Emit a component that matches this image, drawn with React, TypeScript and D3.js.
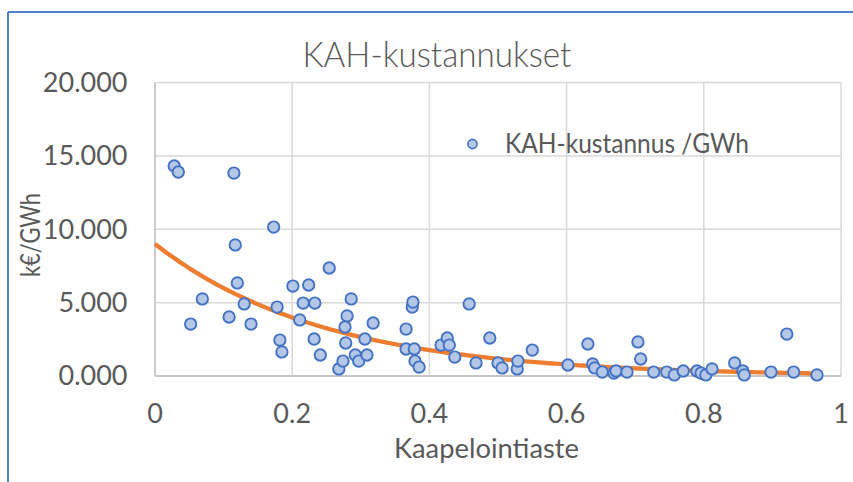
import React from "react";
import * as d3 from "d3";

const kaapelointiaste = [
  0.028, 0.034, 0.115, 0.173, 0.117, 0.12, 0.069, 0.13, 0.052, 0.108, 0.14, 0.178, 0.182, 0.185,
  0.201, 0.224, 0.254, 0.216, 0.233, 0.211, 0.232, 0.241, 0.286, 0.28, 0.277, 0.278, 0.268, 0.274,
  0.292, 0.297, 0.309, 0.306, 0.318, 0.366, 0.375, 0.376, 0.366, 0.378, 0.379, 0.385, 0.417, 0.426,
  0.429, 0.437, 0.458, 0.468, 0.488, 0.5, 0.506, 0.528, 0.529, 0.55, 0.602, 0.631, 0.638, 0.641,
  0.652, 0.669, 0.672, 0.688, 0.704, 0.708, 0.727, 0.746, 0.757, 0.77, 0.79, 0.796, 0.803, 0.812,
  0.845, 0.857, 0.859, 0.898, 0.921, 0.931, 0.965,
];

const kustannus = [
  14.31, 13.9, 13.83, 10.15, 8.93, 6.34, 5.25, 4.91, 3.54, 4.02, 3.54, 4.7, 2.45, 1.64,
  6.13, 6.2, 7.36, 4.97, 4.97, 3.82, 2.52, 1.43, 5.25, 4.09, 3.34, 2.25, 0.48, 1.02,
  1.43, 1.02, 1.43, 2.52, 3.61, 3.2, 4.7, 5.04, 1.84, 1.84, 1.02, 0.61, 2.11, 2.59,
  2.11, 1.29, 4.91, 0.89, 2.59, 0.89, 0.55, 0.48, 1.02, 1.77, 0.75, 2.18, 0.82, 0.55,
  0.27, 0.2, 0.34, 0.27, 2.32, 1.16, 0.27, 0.27, 0.07, 0.34, 0.34, 0.2, 0.07, 0.48,
  0.89, 0.34, 0.07, 0.27, 2.86, 0.27, 0.07,
];

const xTicks = [0, 0.2, 0.4, 0.6, 0.8, 1];
const yTicks = [0, 5, 10, 15, 20];

// Exponential trendline (Excel): y = a * e^(b x)
const trendA = 9.0;
const trendB = -4.07;
const trendRange = [0, 0.965];

const titleText = "KAH-kustannukset";
const legendText = "KAH-kustannus /GWh";
const xTitle = "Kaapelointiaste";
const yTitle = "k€/GWh";

const W = 853;
const H = 482;
const FONT = "Lato, 'Open Sans', 'Liberation Sans', sans-serif";
const TEXT = "#595959";

export default function App() {
  const x = d3.scaleLinear().domain([0, 1]).range([155, 841]);
  const y = d3.scaleLinear().domain([0, 20]).range([376, 82.5]);

  const trendPts = d3.range(0, 201).map((i) => {
    const xv = trendRange[0] + ((trendRange[1] - trendRange[0]) * i) / 200;
    return [xv, trendA * Math.exp(trendB * xv)] as [number, number];
  });
  const line = d3
    .line<[number, number]>()
    .x((d) => x(d[0]))
    .y((d) => y(d[1]));

  const fmtY = d3.format(".3f");
  const fmtX = (v: number) => String(v);

  const data = kaapelointiaste.map((v, i) => ({ x: v, y: kustannus[i] }));

  return (
    <svg
      width={W}
      height={H}
      style={{ position: "absolute", left: 0, top: 0, background: "#fff" }}
      fontFamily={FONT}
    >
      <rect x={0} y={0} width={W} height={H} fill="#fff" />
      {/* chart border (cropped) */}
      <line x1={8} y1={12} x2={W} y2={12} stroke="#5181C8" strokeWidth={2} />
      <line x1={8} y1={12} x2={8} y2={H} stroke="#5181C8" strokeWidth={2} />

      {/* gridlines */}
      {yTicks
        .filter((t) => t > 0)
        .map((t) => (
          <line key={"gy" + t} x1={x(0)} x2={x(1)} y1={y(t)} y2={y(t)} stroke="#d9d9d9" strokeWidth={1.5} />
        ))}
      {xTicks
        .filter((t) => t > 0)
        .map((t) => (
          <line key={"gx" + t} x1={x(t)} x2={x(t)} y1={y(0)} y2={y(20)} stroke="#d9d9d9" strokeWidth={1.5} />
        ))}
      {/* axes */}
      <line x1={x(0)} x2={x(0)} y1={y(0)} y2={y(20)} stroke="#c6c6c6" strokeWidth={1.8} />
      <line x1={x(0)} x2={x(1)} y1={y(0)} y2={y(0)} stroke="#c6c6c6" strokeWidth={1.8} />

      {/* tick labels */}
      {yTicks.map((t) => (
        <text key={"ly" + t} x={127.5} y={y(t)} dy="0.35em" textAnchor="end" fontSize={27} fill={TEXT}>
          {fmtY(t)}
        </text>
      ))}
      {xTicks.map((t) => (
        <text key={"lx" + t} x={x(t)} y={422.5} textAnchor="middle" fontSize={27} fill={TEXT}>
          {fmtX(t)}
        </text>
      ))}

      {/* trendline */}
      <path d={line(trendPts) || ""} fill="none" stroke="#ED7D31" strokeWidth={4.3} strokeLinecap="butt" />

      {/* points */}
      {data.map((d, i) => (
        <circle key={i} cx={x(d.x)} cy={y(d.y)} r={5.7} fill="#B4C7E7" stroke="#4472C4" strokeWidth={1.9} />
      ))}

      {/* title */}
      <text
        x={437}
        y={66.7}
        textAnchor="middle"
        fontSize={35}
        fontWeight={300}
        fill={TEXT}
        textLength={269}
        lengthAdjust="spacingAndGlyphs"
      >
        {titleText}
      </text>

      {/* legend */}
      <circle cx={472.5} cy={144} r={4.6} fill="#B4C7E7" stroke="#4472C4" strokeWidth={1.6} />
      <text x={505} y={153.3} fontSize={27} fill={TEXT} textLength={244} lengthAdjust="spacingAndGlyphs">
        {legendText}
      </text>

      {/* axis titles */}
      <text x={486.5} y={458.3} textAnchor="middle" fontSize={27} fill={TEXT} textLength={185} lengthAdjust="spacingAndGlyphs">
        {xTitle}
      </text>
      <text
        transform="translate(40,235) rotate(-90)"
        textAnchor="middle"
        fontSize={27}
        fill={TEXT}
        textLength={84}
        lengthAdjust="spacingAndGlyphs"
      >
        {yTitle}
      </text>
    </svg>
  );
}
